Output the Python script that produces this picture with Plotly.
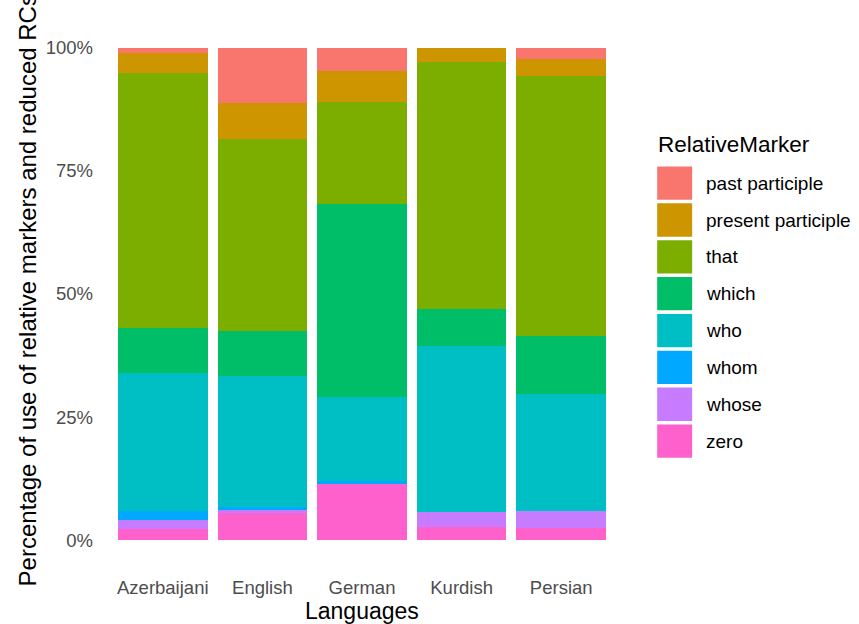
import plotly.graph_objects as go

languages = ["Azerbaijani", "English", "German", "Kurdish", "Persian"]
markers = ["past participle", "present participle", "that", "which", "who", "whom", "whose", "zero"]
colors = ["#F8766D", "#CD9600", "#7CAE00", "#00BE67", "#00BFC4", "#00A9FF", "#C77CFF", "#FF61CC"]

past_participle    = [1.02, 11.31, 4.81, 0.0, 2.30]
present_participle = [4.20, 7.17, 6.22, 2.90, 3.53]
that               = [51.66, 39.06, 20.80, 50.11, 52.67]
which              = [9.14, 9.08, 39.06, 7.45, 11.72]
who                = [27.97, 26.67, 17.16, 33.78, 23.77]
whom               = [1.89, 0.49, 0.41, 0.0, 0.0]
whose              = [1.89, 0.61, 0.0, 2.99, 3.58]
zero               = [2.23, 5.60, 11.54, 2.76, 2.44]

y_ticks = [0, 25, 50, 75, 100]
y_tick_labels = ["0%", "25%", "50%", "75%", "100%"]

series = [past_participle, present_participle, that, which, who, whom, whose, zero]

FONT = "Arial, Liberation Sans, sans-serif"

fig = go.Figure()
# stack from bottom (zero) to top (past participle)
for name, vals, col in reversed(list(zip(markers, series, colors))):
    fig.add_trace(go.Bar(x=languages, y=vals, name=name, marker=dict(color=col, line=dict(width=0)),
                         showlegend=False))

W, H = 859, 624
L, R, T, B = 102.5, 620.8, 23.4, 564.9
pw, ph = R - L, B - T

def px(x):
    return (x - L) / pw

def py(y):
    return (B - y) / ph

fig.update_layout(
    width=W, height=H,
    margin=dict(l=L, r=W - R, t=T, b=H - B, autoexpand=False),
    barmode="stack", bargap=0.1,
    plot_bgcolor="white", paper_bgcolor="white",
    font=dict(family=FONT),
    xaxis=dict(range=[-0.6, 4.6], showgrid=False, zeroline=False, showline=False,
               ticks="", tickfont=dict(size=18.5, color="#4D4D4D"), ticklabelstandoff=9),
    yaxis=dict(range=[-5, 105], tickvals=y_ticks, ticktext=y_tick_labels, showgrid=False,
               zeroline=False, showline=False, ticks="",
               tickfont=dict(size=18.5, color="#4D4D4D"), ticklabelstandoff=9),
)

# axis titles
fig.add_annotation(text="Languages", xref="paper", yref="paper", x=px(361.6), y=py(611),
                   xanchor="center", yanchor="middle", showarrow=False,
                   font=dict(size=23, color="black", family=FONT))
fig.add_annotation(text="Percentage of use of relative markers and reduced RCs", xref="paper", yref="paper",
                   x=px(27), y=py(291), xanchor="center", yanchor="middle", textangle=-90, showarrow=False,
                   font=dict(size=24, color="black", family=FONT))

# legend (drawn manually to match key sizes)
fig.add_annotation(text="RelativeMarker", xref="paper", yref="paper", x=px(656), y=py(145),
                   xanchor="left", yanchor="middle", showarrow=False,
                   font=dict(size=22.5, color="black", family=FONT))
for i, (name, col) in enumerate(zip(markers, colors)):
    top = 166.7 + 36.83 * i
    fig.add_shape(type="rect", xref="paper", yref="paper", x0=px(657), x1=px(692),
                  y0=py(top + 33.3), y1=py(top), fillcolor=col, line=dict(width=0))
    fig.add_annotation(text=name, xref="paper", yref="paper", x=px(704), y=py(top + 16.7),
                       xanchor="left", yanchor="middle", showarrow=False,
                       font=dict(size=19, color="black", family=FONT))

fig.write_html("out.html", config={"displayModeBar": False},
               post_script="document.body.style.margin='0';")
